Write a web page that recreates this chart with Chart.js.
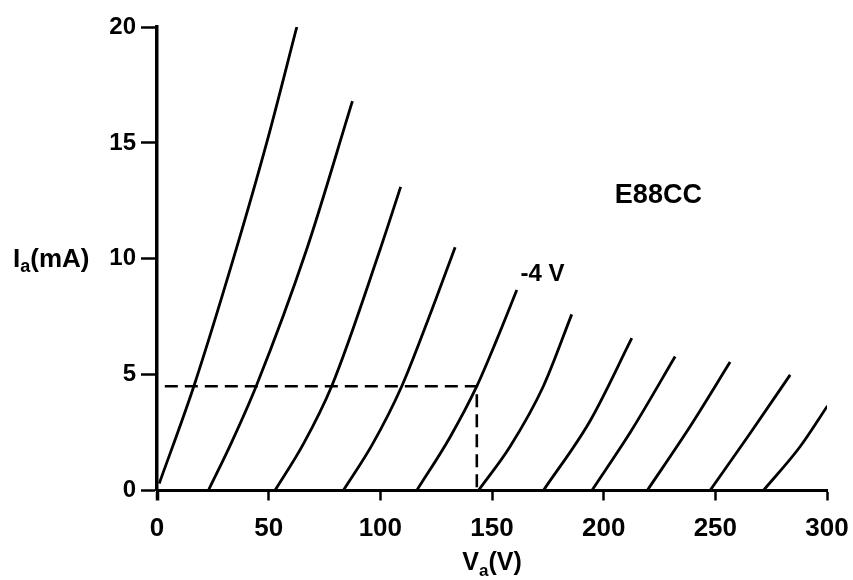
<!DOCTYPE html>
<html><head><meta charset="utf-8">
<script src="https://cdn.jsdelivr.net/npm/chart.js@4/dist/chart.umd.min.js"></script>
<style>html,body{margin:0;padding:0;background:#fff}#wrap{width:853px;height:580px;position:relative}</style>
</head><body><div id="wrap"><canvas id="c" width="853" height="580"></canvas></div>
<script>
// ---- data (anode voltage V, anode current mA) ----
const xTicks = [0, 50, 100, 150, 200, 250, 300];
const yTicks = [0, 5, 10, 15, 20];
const curve0  = [[1,0.3],[16.5,4.5],[34.5,10.1],[49.1,15.0],[62.6,20.0]];
const curve1  = [[23,0],[33.5,2.1],[44.4,4.5],[67.0,10.4],[87.5,16.8]];
const curve2  = [[52.8,0],[65.5,2.0],[78.2,4.5],[99.9,10.4],[109.1,13.1]];
const curve3  = [[83.4,0],[96.5,2.0],[109.6,4.5],[121.5,7.4],[133.5,10.5]];
const curve4  = [[116.3,0],[131.2,2.3],[143.2,4.5],[152.1,6.5],[161.1,8.65]];
const curve5  = [[143.9,0],[158.1,1.9],[173.0,4.5],[185.7,7.6]];
const curve6  = [[173.0,0],[193.9,3.0],[212.6,6.57]];
const curve7  = [[194.7,0],[212.5,2.6],[232.0,5.78]];
const curve8  = [[219.5,0],[238.7,2.76],[256.6,5.54]];
const curve9  = [[247.6,0],[265.6,2.47],[283.5,4.99]];
const curve10 = [[271.5,0],[288.0,1.9],[300.2,3.65]];
const curves = [curve0,curve1,curve2,curve3,curve4,curve5,curve6,curve7,curve8,curve9,curve10];
const operatingPoint = [[3.5,4.5],[143.2,4.5],[143.2,0]];
const gridLabel = {text: '-4 V', x: 172.6, y: 9.34};
const tubeLabel = {text: 'E88CC', x: 224.5, y: 12.74};
const yTitle = {main: 'I', sub: 'a', rest: '(mA)', at: 10};
const xTitle = {main: 'V', sub: 'a', rest: '(V)', at: 150};

const FONT = "'Liberation Sans', Arial, Helvetica, sans-serif";
Chart.defaults.font.family = FONT;

const toPts = arr => arr.map(p => ({x: p[0], y: p[1]}));
const datasets = curves.map(c => ({
  data: toPts(c), showLine: true, borderColor: '#000', borderWidth: 2.8,
  pointRadius: 0, cubicInterpolationMode: 'monotone', fill: false
}));
datasets.push({
  data: toPts(operatingPoint), showLine: true, borderColor: '#000', borderWidth: 2.6,
  borderDash: [13, 7], pointRadius: 0, tension: 0, fill: false
});

function drawSub(ctx, t, x, baseline, size, subSize, subDrop, align) {
  ctx.font = 'bold ' + size + 'px ' + FONT;
  const w1 = ctx.measureText(t.main).width;
  const w3 = ctx.measureText(t.rest).width;
  ctx.font = 'bold ' + subSize + 'px ' + FONT;
  const w2 = ctx.measureText(t.sub).width;
  let x0 = align === 'center' ? x - (w1 + w2 + w3) / 2 : x;
  ctx.textAlign = 'left'; ctx.textBaseline = 'alphabetic';
  ctx.font = 'bold ' + size + 'px ' + FONT;
  ctx.fillText(t.main, x0, baseline);
  ctx.font = 'bold ' + subSize + 'px ' + FONT;
  ctx.fillText(t.sub, x0 + w1, baseline + subDrop);
  ctx.font = 'bold ' + size + 'px ' + FONT;
  ctx.fillText(t.rest, x0 + w1 + w2, baseline);
}

const textPlugin = {
  id: 'texts',
  afterDraw(chart) {
    const ctx = chart.ctx, xs = chart.scales.x, ys = chart.scales.y;
    ctx.save();
    ctx.fillStyle = '#000';
    drawSub(ctx, yTitle, 13, ys.getPixelForValue(yTitle.at) + 8, 26, 18, 5, 'left');
    drawSub(ctx, xTitle, xs.getPixelForValue(xTitle.at), chart.chartArea.bottom + 79, 25, 17, 6, 'center');
    ctx.textAlign = 'center'; ctx.textBaseline = 'middle';
    ctx.font = 'bold 24px ' + FONT;
    ctx.fillText(gridLabel.text, xs.getPixelForValue(gridLabel.x), ys.getPixelForValue(gridLabel.y));
    ctx.font = 'bold 27px ' + FONT;
    ctx.fillText(tubeLabel.text, xs.getPixelForValue(tubeLabel.x), ys.getPixelForValue(tubeLabel.y));
    ctx.restore();
  }
};

new Chart(document.getElementById('c'), {
  type: 'scatter',
  data: {datasets},
  options: {
    responsive: false, animation: false,
    layout: {padding: {top: 27, right: 26, left: 0, bottom: 0}},
    plugins: {legend: {display: false}, tooltip: {enabled: false}},
    scales: {
      x: {
        type: 'linear', min: 0, max: 300, position: 'bottom',
        border: {display: true, color: '#000', width: 3},
        grid: {drawOnChartArea: false, drawTicks: true, tickLength: 10, tickColor: '#000',
               tickWidth: c => c.index === 0 ? 3.5 : 2.5, color: '#000'},
        ticks: {color: '#000', font: {size: 26, weight: 'bold'}, padding: 13, maxRotation: 0},
        afterBuildTicks: s => { s.ticks = xTicks.map(v => ({value: v})); },
        afterFit: s => { s.height = 89.5; s.paddingLeft = 0; s.paddingRight = 0; }
      },
      y: {
        type: 'linear', min: 0, max: 20, position: 'left',
        border: {display: true, color: '#000', width: 3.5},
        grid: {drawOnChartArea: false, drawTicks: true, tickLength: 16, tickColor: '#000',
               tickWidth: 2.5, color: '#000'},
        ticks: {color: '#000', font: {size: 24, weight: 'bold'}, padding: 5},
        afterBuildTicks: s => { s.ticks = yTicks.map(v => ({value: v})); },
        afterFit: s => { s.width = 157; s.paddingTop = 0; s.paddingBottom = 0; }
      }
    }
  },
  plugins: [textPlugin]
});
</script>
</body></html>
